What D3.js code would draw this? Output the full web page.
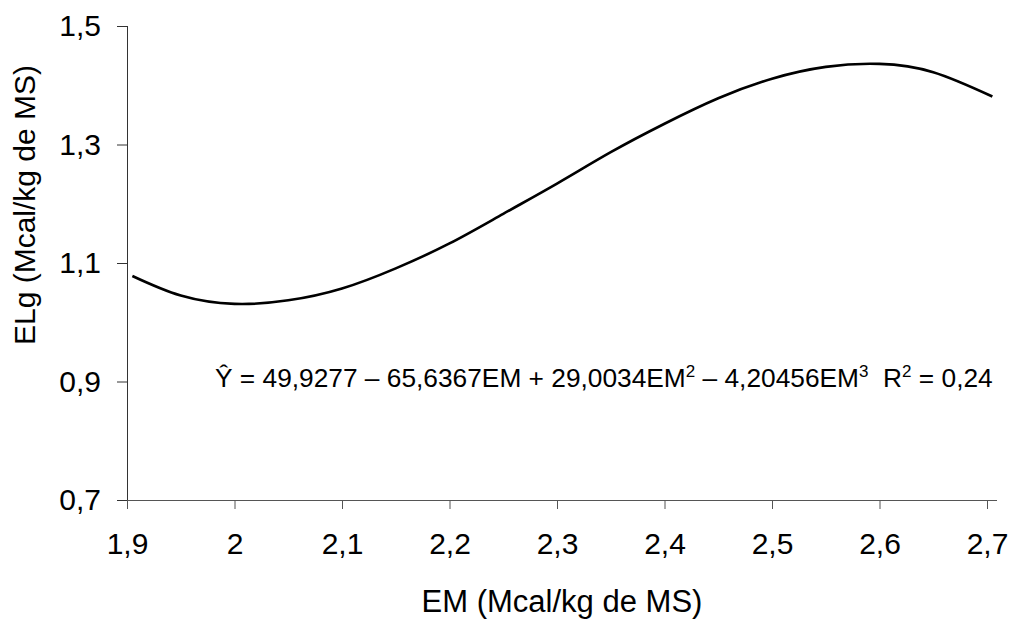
<!DOCTYPE html>
<html>
<head>
<meta charset="utf-8">
<script src="https://cdn.jsdelivr.net/npm/d3@7"></script>
<style>
  body { margin: 0; background: #fff; }
  text { font-family: "Liberation Sans", Arial, sans-serif; fill: #000; }
</style>
</head>
<body>
<script>
// EM values and fitted ELg values
const em = [1.905, 1.95, 2.0, 2.05, 2.1, 2.15, 2.2, 2.25, 2.3, 2.35, 2.4, 2.45, 2.5, 2.55, 2.6, 2.65, 2.705];
const elg = [1.078, 1.045, 1.031, 1.037, 1.057, 1.091, 1.133, 1.183, 1.234, 1.287, 1.335, 1.378, 1.411, 1.431, 1.436, 1.422, 1.381];

const xTicks = [1.9, 2.0, 2.1, 2.2, 2.3, 2.4, 2.5, 2.6, 2.7];
const yTicks = [0.7, 0.9, 1.1, 1.3, 1.5];

const width = 1021, height = 619;

const x = d3.scaleLinear().domain([1.9, 2.7]).range([127, 987]);
const y = d3.scaleLinear().domain([0.7, 1.5]).range([500, 26]);

const fmt = d => d3.format("")(+d.toFixed(1)).replace(".", ",");

const svg = d3.select("body")
  .append("svg")
  .attr("width", width)
  .attr("height", height);

// x axis
const xAxis = svg.append("g")
  .attr("transform", "translate(0,500)")
  .call(d3.axisBottom(x).tickValues(xTicks).tickSize(9).tickPadding(24).tickFormat(fmt));
xAxis.select(".domain").attr("d", "M117,0.5H997").attr("stroke", "#555");
xAxis.selectAll(".tick line").attr("stroke", "#555");
xAxis.selectAll("text").style("font-size", "30px");

// y axis
const yAxis = svg.append("g")
  .attr("transform", "translate(127,0)")
  .call(d3.axisLeft(y).tickValues(yTicks).tickSize(10).tickPadding(16).tickFormat(fmt));
yAxis.select(".domain").attr("d", "M0.5,26V500").attr("stroke", "#333");
yAxis.selectAll(".tick line").attr("stroke", "#333");
yAxis.selectAll("text").style("font-size", "30px");

// curve
const line = d3.line()
  .x((d, i) => x(em[i]))
  .y(d => y(d))
  .curve(d3.curveNatural);

svg.append("path")
  .datum(elg)
  .attr("fill", "none")
  .attr("stroke", "#000")
  .attr("stroke-width", 2.6)
  .attr("d", line);

// axis titles
svg.append("text")
  .attr("x", 562)
  .attr("y", 612)
  .attr("text-anchor", "middle")
  .style("font-size", "31px")
  .text("EM (Mcal/kg de MS)");

svg.append("text")
  .attr("transform", "translate(35,205) rotate(-90)")
  .attr("text-anchor", "middle")
  .style("font-size", "30px")
  .text("ELg (Mcal/kg de MS)");

// equation
const eq = svg.append("text")
  .attr("x", 215)
  .attr("y", 387)
  .style("font-size", "26.3px")
  .style("white-space", "pre");
const parts = [
  ["Ŷ = 49,9277 – 65,6367EM + 29,0034EM", false],
  ["2", true],
  [" – 4,20456EM", false],
  ["3", true],
  ["  R", false],
  ["2", true],
  [" = 0,24", false]
];
let raised = false;
parts.forEach(([t, sup]) => {
  const dy = sup ? -10 : (raised ? 10 : 0);
  raised = sup;
  eq.append("tspan")
    .attr("dy", dy)
    .style("font-size", sup ? "17px" : null)
    .text(t);
});
</script>
</body>
</html>
